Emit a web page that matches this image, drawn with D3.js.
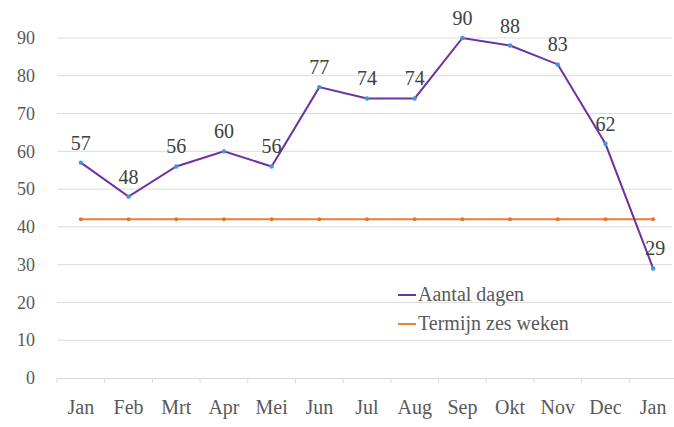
<!DOCTYPE html>
<html><head><meta charset="utf-8">
<script src="https://cdn.jsdelivr.net/npm/d3@7"></script>
<style>body{margin:0;background:#fff}</style>
</head><body>
<svg id="c" width="674" height="427"></svg>
<script>
const categories = ["Jan","Feb","Mrt","Apr","Mei","Jun","Jul","Aug","Sep","Okt","Nov","Dec","Jan"];
const aantalDagen = [57,48,56,60,56,77,74,74,90,88,83,62,29];
const termijn = [42,42,42,42,42,42,42,42,42,42,42,42,42];
const yTicks = [0,10,20,30,40,50,60,70,80,90];
const seriesNames = ["Aantal dagen","Termijn zes weken"];

(function(){
const svg = d3.select("#c");
const font = "'Liberation Serif', 'DejaVu Serif', serif";
const textColor = "#595959";
const mL = 57, mR = 677, mT = 38, mB = 378;
const x = d3.scaleBand().domain(d3.range(categories.length)).range([mL, mR]);
const y = d3.scaleLinear().domain([0, 90]).range([mB, mT]);
const cx = i => x(i) + x.bandwidth()/2;

svg.append("g").selectAll("line").data(yTicks.filter(d=>d>0)).join("line")
  .attr("x1", mL).attr("x2", 672).attr("y1", d=>y(d)).attr("y2", d=>y(d))
  .attr("stroke", "#dcdcdc").attr("stroke-width", 1);

const xa = svg.append("g").attr("transform", `translate(0,${mB})`)
  .call(d3.axisBottom(x).tickFormat(i=>categories[i]).tickSize(0).tickPadding(22));
xa.select(".domain").attr("stroke", "#d9d9d9");
xa.selectAll("text").attr("font-family", font).attr("font-size", 20).attr("fill", textColor);
svg.append("g").selectAll("line").data(d3.range(categories.length+1)).join("line")
  .attr("x1", i => i < categories.length ? x(i) : mR).attr("x2", i => i < categories.length ? x(i) : mR)
  .attr("y1", mB).attr("y2", mB+5).attr("stroke", "#d9d9d9");

const ya = svg.append("g").attr("transform", `translate(${mL},0)`)
  .call(d3.axisLeft(y).tickValues(yTicks).tickSize(0).tickPadding(22));
ya.select(".domain").remove();
ya.selectAll("text").attr("font-family", font).attr("font-size", 18).attr("fill", textColor);

const line = d3.line().x((d,i)=>cx(i)).y(d=>y(d));
svg.append("path").datum(termijn).attr("d", line).attr("fill","none")
  .attr("stroke", "#ED7D31").attr("stroke-width", 2);
svg.append("g").selectAll("circle").data(termijn).join("circle")
  .attr("cx",(d,i)=>cx(i)).attr("cy",d=>y(d)).attr("r",2).attr("fill","#E8722A");

svg.append("path").datum(aantalDagen).attr("d", line).attr("fill","none")
  .attr("stroke", "#7030A0").attr("stroke-width", 2);
svg.append("g").selectAll("circle").data(aantalDagen).join("circle")
  .attr("cx",(d,i)=>cx(i)).attr("cy",d=>y(d)).attr("r",2.2).attr("fill","#3d9ad6");
svg.append("g").selectAll("text").data(aantalDagen).join("text")
  .attr("x",(d,i)=>cx(i) + (i === aantalDagen.length-1 ? 2 : 0)).attr("y",d=>y(d)-13).attr("text-anchor","middle")
  .attr("font-family", font).attr("font-size", 20).attr("fill", "#404040")
  .text(d=>d);

const lg = svg.append("g").attr("transform","translate(398,295)");
const lcol = ["#7030A0","#ED7D31"];
seriesNames.forEach((n,k)=>{
  const g = lg.append("g").attr("transform",`translate(0,${k*29})`);
  g.append("line").attr("x1",0).attr("x2",18).attr("y1",0).attr("y2",0).attr("stroke",lcol[k]).attr("stroke-width",2);
  g.append("text").attr("x",20).attr("y",6).attr("font-family",font).attr("font-size",20).attr("fill",textColor).text(n);
});
})();
</script>
</body></html>
